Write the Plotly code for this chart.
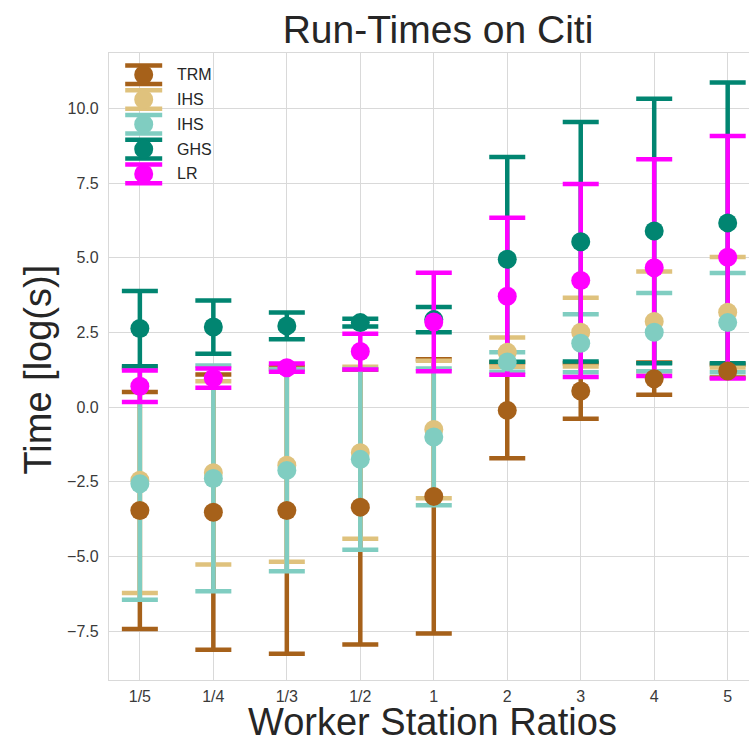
import plotly.graph_objects as go

# Worker/station ratio categories
ratios = ["1/5", "1/4", "1/3", "1/2", "1", "2", "3", "4", "5"]

# Mean log run-times and their standard deviations per method
trm_mean = [-3.46, -3.52, -3.46, -3.35, -2.99, -0.11, 0.54, 0.95, 1.21]
trm_std = [3.97, 4.61, 4.80, 4.60, 4.59, 1.60, 0.93, 0.54, 0.22]

ihs_a_mean = [-2.45, -2.20, -1.95, -1.53, -0.75, 1.84, 2.51, 2.87, 3.18]
ihs_a_std = [3.78, 3.07, 3.23, 2.88, 2.30, 0.49, 1.15, 1.67, 1.85]

ihs_b_mean = [-2.57, -2.39, -2.12, -1.75, -1.00, 1.51, 2.14, 2.51, 2.83]
ihs_b_std = [3.88, 3.78, 3.38, 3.03, 2.29, 0.33, 0.97, 1.31, 1.66]

ghs_mean = [2.63, 2.68, 2.72, 2.83, 2.93, 4.95, 5.54, 5.90, 6.17]
ghs_std = [1.26, 0.89, 0.45, 0.13, 0.42, 3.43, 4.01, 4.43, 4.70]

lr_mean = [0.70, 0.97, 1.32, 1.86, 2.85, 3.71, 4.24, 4.67, 5.02]
lr_std = [0.53, 0.32, 0.14, 0.60, 1.65, 2.63, 3.23, 3.63, 4.06]

series_names = ["TRM", "IHS", "IHS", "GHS", "LR"]
series_colors = ["#a6611a", "#dfc27d", "#80cdc1", "#018571", "#ff00ff"]
series_means = [trm_mean, ihs_a_mean, ihs_b_mean, ghs_mean, lr_mean]
series_stds = [trm_std, ihs_a_std, ihs_b_std, ghs_std, lr_std]

y_tick_vals = [-7.5, -5.0, -2.5, 0.0, 2.5, 5.0, 7.5, 10.0]
y_tick_text = ["\u22127.5", "\u22125.0", "\u22122.5", "0.0", "2.5", "5.0", "7.5", "10.0"]

FONT = "Liberation Sans, Arial, sans-serif"
TEXT = "#262626"
GRID = "#d9d9d9"

W, H = 749, 742
ML, MR, MT, MB = 109, 0, 53, 62

fig = go.Figure()

# error bars first so that every marker sits above every bar
for name, color, m, s in zip(series_names, series_colors, series_means, series_stds):
    fig.add_trace(go.Scatter(
        x=ratios, y=m, mode="markers", name=name, showlegend=False,
        marker=dict(size=1, color="rgba(0,0,0,0)"),
        error_y=dict(type="data", array=s, symmetric=True, color=color,
                     thickness=4.5, width=18),
        hoverinfo="skip",
    ))

for name, color, m in zip(series_names, series_colors, series_means):
    fig.add_trace(go.Scatter(
        x=ratios, y=m, mode="markers", name=name, showlegend=False,
        marker=dict(size=19, color=color, line=dict(width=0)),
    ))

# hand-drawn legend: errorbar glyph + label in the upper-left corner
pw = W - ML - MR
ph = H - MT - MB


def px_x(px):
    return (px - ML) / pw


def px_y(py):
    return (H - MB - py) / ph


shapes = []
annotations = []
row_y = [74.7, 99.5, 124.3, 149.1, 173.9]
cx = 143.7
for name, color, cy in zip(series_names, series_colors, row_y):
    shapes.append(dict(type="line", xref="paper", yref="paper",
                       x0=px_x(cx), x1=px_x(cx), y0=px_y(cy - 9.3), y1=px_y(cy + 9.3),
                       line=dict(color=color, width=4.5)))
    for dy in (-9.3, 9.3):
        shapes.append(dict(type="line", xref="paper", yref="paper",
                           x0=px_x(cx - 18.5), x1=px_x(cx + 18.5),
                           y0=px_y(cy + dy), y1=px_y(cy + dy),
                           line=dict(color=color, width=4.5)))
    shapes.append(dict(type="circle", xref="paper", yref="paper",
                       x0=px_x(cx - 9.5), x1=px_x(cx + 9.5),
                       y0=px_y(cy + 9.5), y1=px_y(cy - 9.5),
                       fillcolor=color, line=dict(width=0)))
    annotations.append(dict(text=name, xref="paper", yref="paper",
                            x=px_x(175), y=px_y(cy), xanchor="left", yanchor="middle",
                            showarrow=False, font=dict(family=FONT, size=16, color=TEXT)))

# axis titles
annotations.append(dict(text="Worker Station Ratios", xref="paper", yref="paper",
                        x=px_x(432), y=px_y(722), xanchor="center", yanchor="middle",
                        showarrow=False, font=dict(family=FONT, size=38, color=TEXT)))
annotations.append(dict(text="Time [log(s)]", xref="paper", yref="paper",
                        x=px_x(37.5), y=px_y(370), xanchor="center", yanchor="middle",
                        textangle=-90, showarrow=False,
                        font=dict(family=FONT, size=38, color=TEXT)))

fig.update_layout(
    width=W, height=H,
    margin=dict(l=ML, r=MR, t=MT, b=MB),
    paper_bgcolor="white", plot_bgcolor="white",
    title=dict(text="Run-Times on Citi", xref="container", yref="container",
               x=438 / W, y=1 - 29 / H, xanchor="center", yanchor="middle",
               font=dict(family=FONT, size=39, color=TEXT)),
    shapes=shapes,
    annotations=annotations,
    showlegend=False,
)

fig.update_xaxes(
    type="category", categoryorder="array", categoryarray=ratios,
    range=[-0.42, 8.29],
    showgrid=True, gridcolor=GRID, gridwidth=1.2,
    showline=True, linecolor=GRID, linewidth=1.2, mirror=True,
    ticks="", tickfont=dict(family=FONT, size=16, color="#3a3a3a"),
    ticklabelstandoff=2, zeroline=False,
)
fig.update_yaxes(
    range=[-9.14, 11.86],
    tickvals=y_tick_vals, ticktext=y_tick_text,
    showgrid=True, gridcolor=GRID, gridwidth=1.2,
    showline=True, linecolor=GRID, linewidth=1.2,
    ticks="", tickfont=dict(family=FONT, size=16, color="#3a3a3a"),
    ticklabelstandoff=6, zeroline=False,
)

fig.write_html("out.html")
